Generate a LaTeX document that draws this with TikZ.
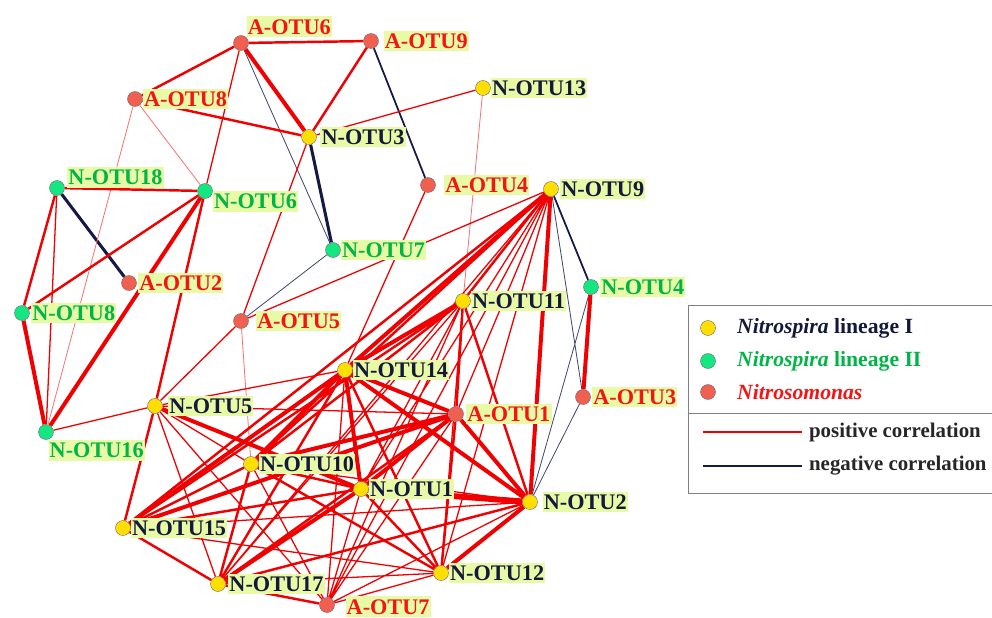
\documentclass[tikz,border=0pt]{standalone}
\usepackage{fontspec}
\setmainfont{Liberation Serif}
\usetikzlibrary{positioning}
\pgfdeclarelayer{bg}
\pgfsetlayers{bg,main}

\definecolor{lblbg}{RGB}{232,250,165}
\definecolor{otured}{RGB}{245,20,20}
\definecolor{otunavy}{RGB}{20,25,60}
\definecolor{otugreen}{RGB}{0,180,70}
\definecolor{fillyel}{RGB}{255,222,0}
\definecolor{fillgrn}{RGB}{20,230,130}
\definecolor{fillsal}{RGB}{240,95,80}
\definecolor{linered}{RGB}{240,0,0}
\definecolor{linenavy}{RGB}{20,25,70}

\tikzset{
  otu/.style={circle,draw=black!55,line width=0.4pt,inner sep=0pt,minimum size=0.45cm},
  lin1/.style={otu,fill=fillyel},
  lin2/.style={otu,fill=fillgrn},
  nsm/.style={otu,fill=fillsal},
  lbl/.style={fill=lblbg,inner xsep=1pt,inner ysep=2.5pt,font=\fontsize{19}{21}\selectfont\bfseries},
  lbl1/.style={lbl,text=otunavy},
  lbl2/.style={lbl,text=otugreen},
  lbl3/.style={lbl,text=otured},
  poslight/.style={linered!55,line width=0.7pt},
  posline/.style={linered,line width=1.1pt},
  posmid/.style={linered,line width=2.1pt},
  posthick/.style={linered,line width=3.4pt},
  posheavy/.style={linered,line width=5pt},
  negthin/.style={linenavy!80,line width=0.7pt},
  negline/.style={linenavy,line width=1.5pt},
  negthick/.style={linenavy,line width=2.6pt},
  legtext/.style={anchor=west,font=\fontsize{18.5}{20}\selectfont\bfseries}
}

\begin{document}
\begin{tikzpicture}[x=0.03cm,y=-0.03cm]
  \clip (0,0) rectangle (992,617);

  % Nitrosomonas
  \node[nsm,label={[lbl3,anchor=south west]north east:A-OTU6}] (a6) at (241,43) {};
  \node[nsm,label={[lbl3,xshift=4pt]right:A-OTU9}] (a9) at (371,41) {};
  \node[nsm,label={[lbl3]right:A-OTU8}] (a8) at (135,99) {};
  \node[nsm,label={[lbl3,xshift=7pt]right:A-OTU4}] (a4) at (428,185) {};
  \node[nsm,label={[lbl3,xshift=1pt]right:A-OTU2}] (a2) at (129,283) {};
  \node[nsm,label={[lbl3,xshift=6pt]right:A-OTU5}] (a5) at (241,321) {};
  \node[nsm,label={[lbl3,xshift=2pt]right:A-OTU1}] (a1) at (456,414) {};
  \node[nsm,label={[lbl3,xshift=1pt]right:A-OTU3}] (a3) at (583,397) {};
  \node[nsm,label={[lbl3,xshift=9pt,yshift=-1.5pt]right:A-OTU7}] (a7) at (327,605) {};

  % Nitrospira lineage II
  \node[lin2,label={[lbl2,anchor=south west,xshift=2pt]east:N-OTU18}] (n18) at (57,188) {};
  \node[lin2,label={[lbl2,anchor=north west]east:N-OTU6}] (n6) at (205,191) {};
  \node[lin2,label={[lbl2]right:N-OTU7}] (n7) at (333,250) {};
  \node[lin2,label={[lbl2,xshift=1pt]right:N-OTU4}] (n4) at (591,287) {};
  \node[lin2,label={[lbl2,xshift=1pt]right:N-OTU8}] (n8) at (22,313) {};
  \node[lin2,label={[lbl2,anchor=north west,xshift=2pt]south:N-OTU16}] (n16) at (46,432) {};

  % Nitrospira lineage I
  \node[lin1,label={[lbl1]right:N-OTU13}] (n13) at (483,88) {};
  \node[lin1,label={[lbl1,xshift=3pt]right:N-OTU3}] (n3) at (309,137) {};
  \node[lin1,label={[lbl1,xshift=1pt]right:N-OTU9}] (n9) at (551,189) {};
  \node[lin1,label={[lbl1]right:N-OTU11}] (n11) at (463,301) {};
  \node[lin1,label={[lbl1]right:N-OTU14}] (n14) at (345,370) {};
  \node[lin1,label={[lbl1,xshift=4.5pt]right:N-OTU5}] (n5) at (155,406) {};
  \node[lin1,label={[lbl1]right:N-OTU10}] (n10) at (251,464) {};
  \node[lin1,label={[lbl1]right:N-OTU1}] (n1) at (361,489) {};
  \node[lin1,label={[lbl1,xshift=4pt]right:N-OTU2}] (n2) at (530,502) {};
  \node[lin1,label={[lbl1]right:N-OTU15}] (n15) at (123,528) {};
  \node[lin1,label={[lbl1]right:N-OTU12}] (n12) at (441,573) {};
  \node[lin1,label={[lbl1,xshift=2pt]right:N-OTU17}] (n17) at (218,584) {};

  \begin{pgfonlayer}{bg}
    % negative correlations
    \draw[negthin] (a6) -- (n7) (n7) -- (a5) (n9) -- (a3) (n2) -- (n4) (n2) -- (a3);
    \draw[negline] (a9) -- (a4) (n9) -- (n4);
    \draw[negthick] (n3) -- (n7) (n18) -- (a2);

    % positive correlations
    \draw[poslight] (a8) -- (n6) (a8) -- (n16) (n13) -- (n11) (a5) -- (n10);
    \draw[posline] (a6) -- (n6) (n3) -- (n13) (n3) -- (a5) (n18) -- (n16) (n16) -- (n5)
      (n9) -- (a5) (a4) -- (n14) (a5) -- (n5) (n5) -- (n14) (n5) -- (a1) (n5) -- (n17)
      (n5) -- (n10) (n5) -- (a7) (n9) -- (n1) (n9) -- (a1) (n9) -- (n12) (n9) -- (n17)
      (n9) -- (a7) (n11) -- (n1) (n11) -- (n12) (n11) -- (n17) (n11) -- (a7) (n14) -- (a7)
      (a1) -- (a7) (n10) -- (n2) (n10) -- (a7) (n1) -- (a7) (n2) -- (n15) (n2) -- (a7)
      (n15) -- (n12) (n12) -- (n17) (n12) -- (a7);
    \draw[posmid] (a6) -- (a9) (a6) -- (a8) (a9) -- (n3) (a8) -- (n3) (n18) -- (n6)
      (n18) -- (n8) (n6) -- (n8) (n6) -- (n5) (n5) -- (n15) (n9) -- (n10) (n9) -- (n15)
      (n9) -- (n11) (n11) -- (n10) (n11) -- (n15) (n11) -- (a1) (n11) -- (n2) (n14) -- (n17)
      (n14) -- (n12) (a1) -- (n17) (a1) -- (n12) (n10) -- (n1) (n10) -- (n12) (n10) -- (n15)
      (n10) -- (n17) (n1) -- (n12) (n1) -- (n15) (n2) -- (n17) (n15) -- (n17) (n17) -- (a7);
    \draw[posthick] (a6) -- (n3) (n6) -- (n16) (n8) -- (n16) (n4) -- (a3) (n5) -- (n1)
      (n9) -- (n14) (n9) -- (n2) (n11) -- (n14) (n14) -- (a1) (n14) -- (n1) (n14) -- (n10)
      (n14) -- (n15) (n14) -- (n2) (a1) -- (n10) (a1) -- (n15) (a1) -- (n1) (a1) -- (n2)
      (n1) -- (n17) (n2) -- (n12);
    \draw[posheavy] (n1) -- (n2);
  \end{pgfonlayer}

  % legend
  \draw[black!50,line width=0.8pt] (688,305) rectangle (1010,493);
  \draw[black!50,line width=0.8pt] (688,413) -- (1010,413);
  \node[lin1] (k1) at (708,328) {};
  \node[lin2] (k2) at (708,361) {};
  \node[nsm] (k3) at (708,392) {};
  \node[legtext,text=otunavy] (t1) at (733,328) {\textit{Nitrospira} lineage I};
  \node[legtext,text=otugreen] (t2) at (733,361) {\textit{Nitrospira} lineage II};
  \node[legtext,text=otured] (t3) at (733,392) {\textit{Nitrosomonas}};
  \coordinate (p1) at (703,432);
  \coordinate (p2) at (802,432);
  \coordinate (q1) at (703,466);
  \coordinate (q2) at (802,466);
  \draw[linered,line width=2.4pt] (p1) -- (p2);
  \draw[linenavy,line width=2.4pt] (q1) -- (q2);
  \node[legtext,text=black!85,font=\fontsize{17.8}{20}\selectfont\bfseries] (t4) at (805,432) {positive correlation};
  \node[legtext,text=black!85,font=\fontsize{17.8}{20}\selectfont\bfseries] (t5) at (805,466) {negative correlation};
\end{tikzpicture}
\end{document}
